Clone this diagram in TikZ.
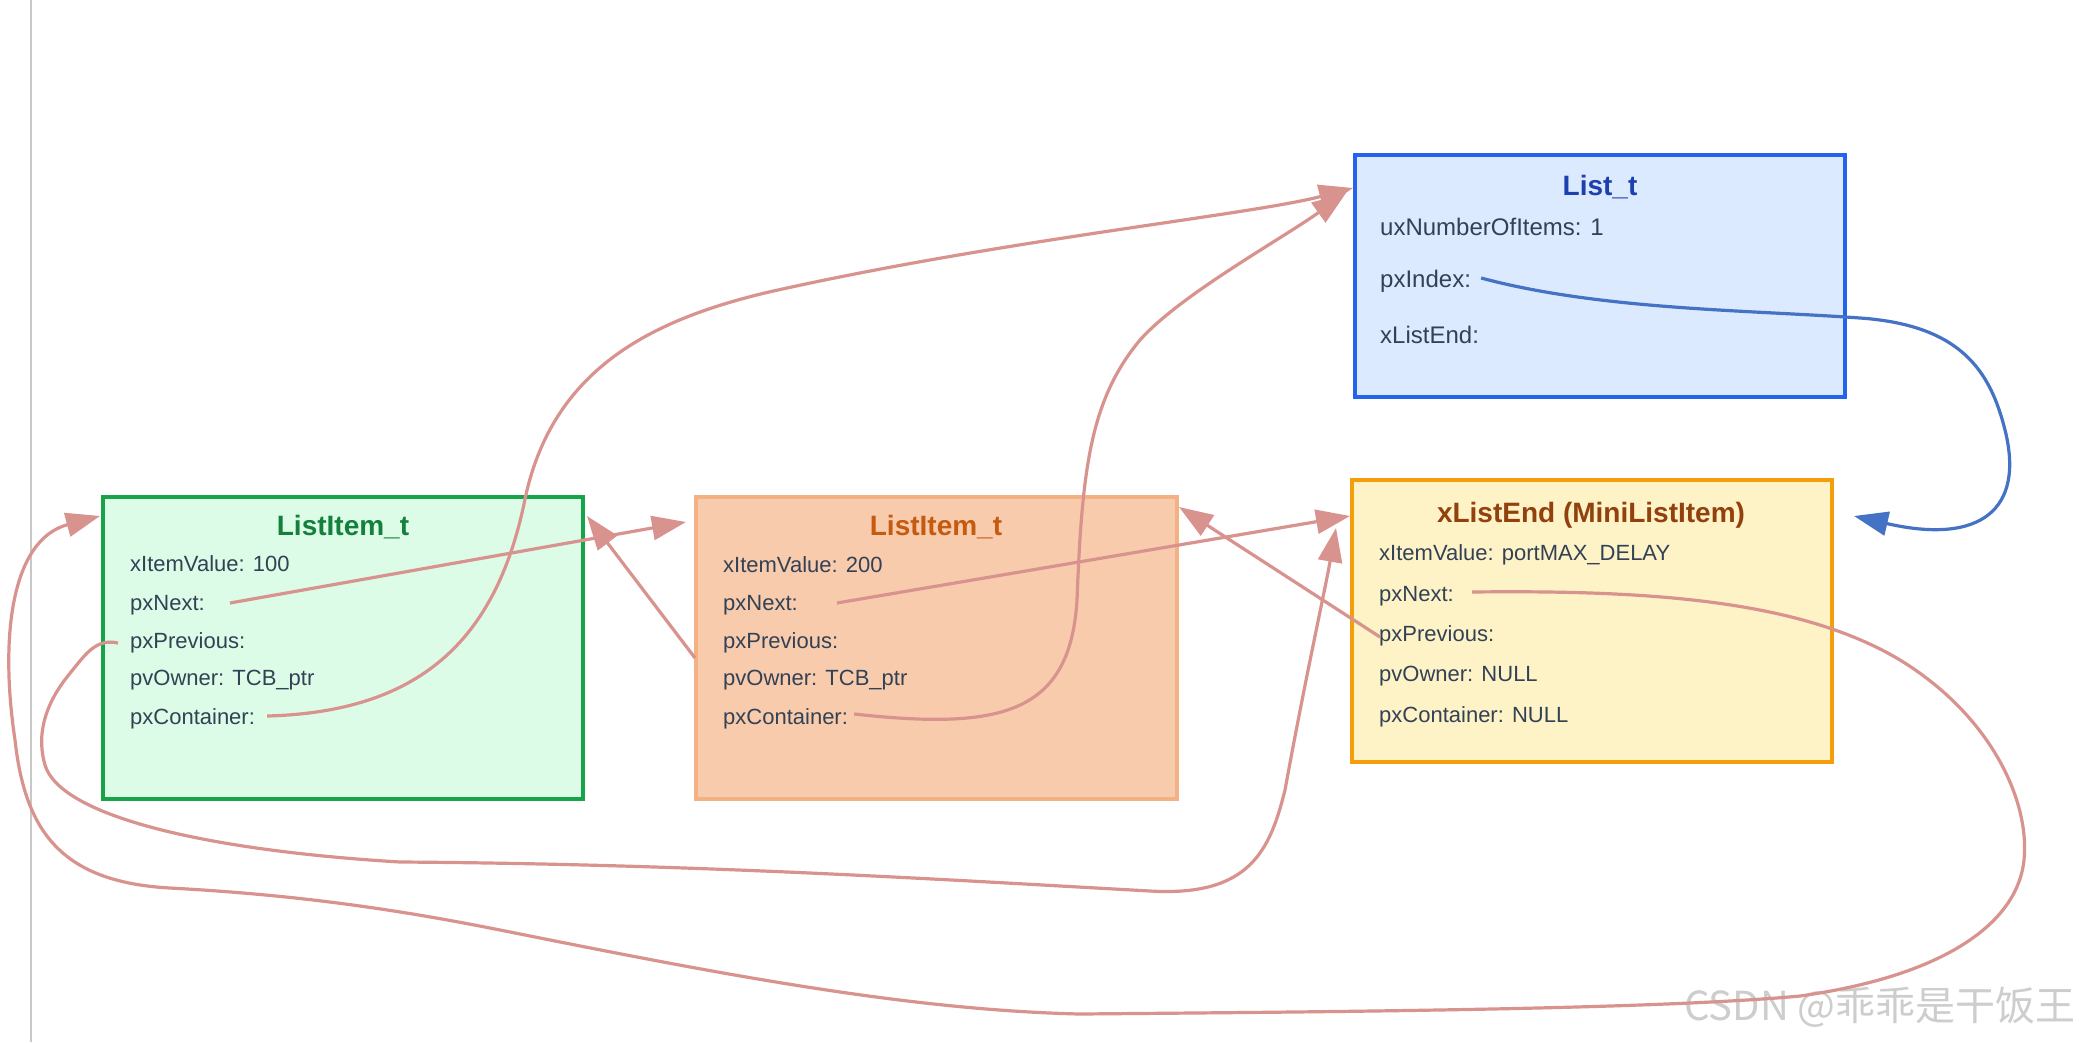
\documentclass[tikz,border=0pt]{standalone}
\usepackage{fontspec}
\setmainfont{Liberation Sans}
\newfontfamily\cjkfont{Noto Sans CJK SC}
\usetikzlibrary{arrows.meta}
\definecolor{gB}{RGB}{22,163,74}
\definecolor{gF}{RGB}{220,252,231}
\definecolor{gT}{RGB}{21,128,61}
\definecolor{oB}{RGB}{244,177,131}
\definecolor{oF}{RGB}{248,203,173}
\definecolor{oT}{RGB}{197,90,17}
\definecolor{bB}{RGB}{37,99,235}
\definecolor{bF}{RGB}{219,234,254}
\definecolor{bT}{RGB}{30,64,175}
\definecolor{yB}{RGB}{245,158,11}
\definecolor{yF}{RGB}{254,243,199}
\definecolor{yT}{RGB}{146,64,14}
\definecolor{txt}{RGB}{51,65,85}
\definecolor{arrowc}{RGB}{217,147,142}
\definecolor{bluearr}{RGB}{68,114,196}
\definecolor{guide}{RGB}{200,200,200}
\definecolor{wm}{RGB}{205,205,205}
\begin{document}
\begin{tikzpicture}[x=1pt,y=-1pt,
  box/.style={rectangle, line width=4pt, inner sep=0pt},
  ttl/.style={inner sep=0pt, font=\fontsize{28}{30}\selectfont\bfseries, text height=20pt, text depth=0pt},
  fld/.style={anchor=west, inner sep=0pt, text=txt, font=\fontsize{22}{24}\selectfont, text height=16pt, text depth=0pt},
  bfld/.style={fld, font=\fontsize{24}{26}\selectfont, text height=17pt},
  conn/.style={draw=arrowc, line width=3.2pt, -{Triangle[length=34pt,width=24pt]}},
  bconn/.style={draw=bluearr, line width=3.2pt, -{Triangle[length=34pt,width=24pt]}}]
\useasboundingbox (0,0) rectangle (2079,1042);
\fill[white] (0,0) rectangle (2079,1042);
\draw[guide, line width=1.5pt] (31,0) -- (31,1042);

% boxes
\node[box, draw=gB, fill=gF, minimum width=480pt, minimum height=302pt] (g) at (343,648) {};
\node[box, draw=oB, fill=oF, minimum width=481pt, minimum height=302pt] (o) at (936.5,648) {};
\node[box, draw=bB, fill=bF, minimum width=490pt, minimum height=242pt] (l) at (1600,276) {};
\node[box, draw=yB, fill=yF, minimum width=480pt, minimum height=282pt] (e) at (1592,621) {};

% green
\node[ttl, text=gT] (gt) at (343,525) {ListItem\_t};
\node[fld] (g1) at (130,563) {xItemValue: 100};
\node[fld] (g2) at (130,602) {pxNext:};
\node[fld] (g3) at (130,640) {pxPrevious:};
\node[fld] (g4) at (130,677) {pvOwner: TCB\_ptr};
\node[fld] (g5) at (130,716) {pxContainer:};

% orange
\node[ttl, text=oT] (ot) at (936,525) {ListItem\_t};
\node[fld] (o1) at (723,564) {xItemValue: 200};
\node[fld] (o2) at (723,602) {pxNext:};
\node[fld] (o3) at (723,640) {pxPrevious:};
\node[fld] (o4) at (723,677) {pvOwner: TCB\_ptr};
\node[fld] (o5) at (723,716) {pxContainer:};

% blue
\node[ttl, text=bT] (lt) at (1600,185) {List\_t};
\node[bfld] (l1) at (1380,227) {uxNumberOfItems: 1};
\node[bfld] (l2) at (1380,279) {pxIndex:};
\node[bfld] (l3) at (1380,335) {xListEnd:};

% yellow
\node[ttl, text=yT] (et) at (1591,512) {xListEnd (MiniListItem)};
\node[fld] (e1) at (1379,552) {xItemValue: portMAX\_DELAY};
\node[fld] (e2) at (1379,593) {pxNext:};
\node[fld] (e3) at (1379,633) {pxPrevious:};
\node[fld] (e4) at (1379,673) {pvOwner: NULL};
\node[fld] (e5) at (1379,714) {pxContainer: NULL};

% watermark
\node[inner sep=0pt, text=wm, font=\cjkfont\fontsize{40}{42}\selectfont] (wmk) at (1880,1007) {CSDN @乖乖是干饭王};

% connectors
\draw[conn] ([shift={(25,1)}]g2.east) -- ([shift={(-8,27)}]o.north west);
\draw[conn] ([shift={(1,10)}]o.west) -- ([shift={(2,21)}]g.north east);
\draw[conn] ([shift={(39,1)}]o2.east) -- ([shift={(0,38)}]e.north west);
\draw[conn] ([shift={(1,4)}]e3.west) -- ([shift={(0,12)}]o.north east);

\draw[conn] ([shift={(12,0)}]g5.east)
  .. controls (420,712) and (495,640) .. (524,504)
  .. controls (550,370) and (650,320) .. (769,292)
  .. controls (1000,240) and (1250,215) .. ([shift={(0,35)}]l.north west);

\draw[conn] ([shift={(6,-2)}]o5.east)
  .. controls (1000,730) and (1070,715) .. (1077,600)
  .. controls (1082,470) and (1090,400) .. (1140,340)
  .. controls (1180,295) and (1280,240) .. ([shift={(-7,40)}]l.north west);

\draw[conn] ([shift={(-12,3)}]g3.west)
  .. controls (95,638) and (85,655) .. (67,677)
  .. controls (49,700) and (35,730) .. (45,765)
  .. controls (60,815) and (200,850) .. (400,862)
  .. controls (700,864) and (950,880) .. (1150,891)
  .. controls (1250,897) and (1270,850) .. (1285,790)
  .. controls (1305,680) and (1325,590) .. ([shift={(-14,50)}]e.north west);

\draw[conn] ([shift={(18,-1)}]e2.east)
  .. controls (1650,590) and (1800,600) .. (1900,660)
  .. controls (1990,715) and (2030,800) .. (2024,860)
  .. controls (2018,920) and (1950,975) .. (1800,996)
  .. controls (1650,1010) and (1300,1012) .. (1080,1014)
  .. controls (900,1010) and (700,970) .. (500,930)
  .. controls (400,910) and (300,895) .. (170,888)
  .. controls (60,882) and (25,830) .. (15,740)
  .. controls (0,640) and (10,540) .. ([shift={(-1,21)}]g.north west);

\draw[bconn] ([shift={(10,-1)}]l2.east)
  .. controls (1600,310) and (1750,310) .. (1860,318)
  .. controls (1960,325) and (1990,370) .. (2005,430)
  .. controls (2025,510) and (1980,545) .. ([shift={(20,38)}]e.north east);
\end{tikzpicture}
\end{document}
